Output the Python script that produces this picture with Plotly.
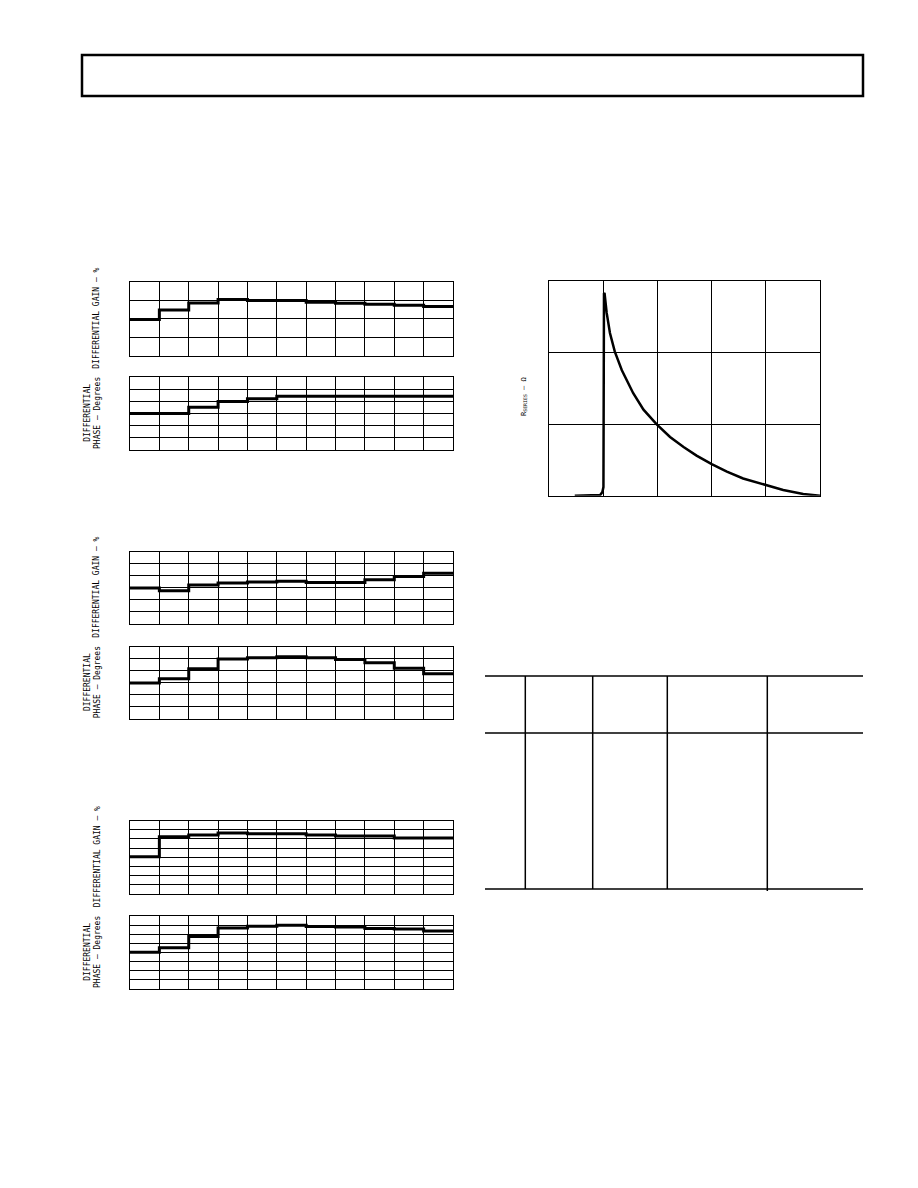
import plotly.graph_objects as go

# page is W x H; the HTML body adds an 8px margin, so the figure is placed
# at (8, 8) and is 8px smaller in each direction.
PAGE_W, PAGE_H = 918, 1188
OFF = 8
W, H = PAGE_W - OFF, PAGE_H - OFF

# ---------------- data ----------------
step_cols = list(range(12))  # 11 columns -> 12 edges

gain1 = [1.96, 2.47, 2.86, 3.05, 2.99, 2.99, 2.90, 2.85, 2.79, 2.74, 2.67]
phase1 = [3.00, 3.00, 3.52, 3.98, 4.22, 4.41, 4.41, 4.41, 4.41, 4.41, 4.41]
gain2 = [2.97, 2.75, 3.22, 3.39, 3.47, 3.53, 3.44, 3.44, 3.66, 3.94, 4.21]
phase2 = [2.97, 3.33, 4.15, 4.96, 5.07, 5.15, 5.07, 4.93, 4.66, 4.19, 3.75]
gain3 = [4.06, 6.23, 6.41, 6.63, 6.56, 6.56, 6.41, 6.30, 6.30, 6.09, 6.09]
phase3 = [4.04, 4.51, 5.75, 6.69, 6.87, 6.98, 6.84, 6.80, 6.62, 6.58, 6.36]

rseries_x = [0.47, 0.94, 0.98, 1.0, 1.01, 1.02, 1.06, 1.12, 1.21, 1.34, 1.55,
             1.74, 1.98, 2.23, 2.48, 2.72, 3.0, 3.28, 3.58, 4.0, 4.32, 4.69, 5.0]
rseries_y = [0.0, 0.01, 0.05, 0.12, 2.82, 2.83, 2.55, 2.27, 2.01, 1.75, 1.43,
             1.2, 1.0, 0.82, 0.68, 0.56, 0.44, 0.335, 0.24, 0.15, 0.08, 0.025, 0.0]

gain_label = "DIFFERENTIAL GAIN – %"
phase_label = "DIFFERENTIAL<br>PHASE – Degrees"
r_label = "R<sub>SERIES</sub> – Ω"

# ---------------- layout helpers (page pixel -> paper) ----------------
def px(x):
    return (x - OFF) / W

def py(y):
    return 1 - (y - OFF) / H

def xdom(a, b):
    return [px(a), px(b)]

def ydom(top, bottom):
    return [py(bottom), py(top)]

fig = go.Figure()
layout = dict(width=W, height=H, margin=dict(l=0, r=0, t=0, b=0),
              paper_bgcolor="white", plot_bgcolor="white", showlegend=False)

axis_common = dict(showgrid=True, gridcolor="black", gridwidth=1, dtick=1, tick0=0,
                   showline=True, linecolor="black", linewidth=1, mirror=True,
                   zeroline=False, showticklabels=False, ticks="", fixedrange=True)

# step panels: (values, nrows, top px, bottom px)
panels = [
    (gain1, 4, 282, 355.5),
    (phase1, 6, 377, 450),
    (gain2, 6, 551.5, 624),
    (phase2, 6, 646.5, 719),
    (gain3, 8, 820.5, 894),
    (phase3, 8, 916, 989),
]

ax_i = 0
for vals, nrows, top, bot in panels:
    ax_i += 1
    xa = "xaxis" if ax_i == 1 else f"xaxis{ax_i}"
    ya = "yaxis" if ax_i == 1 else f"yaxis{ax_i}"
    xr = "x" if ax_i == 1 else f"x{ax_i}"
    yr = "y" if ax_i == 1 else f"y{ax_i}"
    layout[xa] = dict(axis_common, domain=xdom(130, 453), range=[0, 11], anchor=yr)
    layout[ya] = dict(axis_common, domain=ydom(top, bot), range=[0, nrows], anchor=xr)
    fig.add_trace(go.Scatter(x=step_cols, y=vals + [vals[-1]], mode="lines",
                             line=dict(color="black", width=3, shape="hv"),
                             xaxis=xr, yaxis=yr, hoverinfo="skip"))

# R series panel
ax_i += 1
xr, yr = f"x{ax_i}", f"y{ax_i}"
layout[f"xaxis{ax_i}"] = dict(axis_common, domain=xdom(549.3, 820), range=[0, 5], anchor=yr)
layout[f"yaxis{ax_i}"] = dict(axis_common, domain=ydom(280.7, 495.7), range=[0, 3], anchor=xr)
fig.add_trace(go.Scatter(x=rseries_x, y=rseries_y, mode="lines",
                         line=dict(color="black", width=2.5),
                         xaxis=xr, yaxis=yr, hoverinfo="skip"))

# ---------------- labels ----------------
font = dict(family="DejaVu Sans Mono", size=8, color="black")
annotations = []
for idx, (vals, nrows, top, bot) in enumerate(panels):
    cy = py((top + bot) / 2)
    if idx % 2 == 0:
        annotations.append(dict(text=gain_label, x=px(97), y=cy, xref="paper", yref="paper",
                                showarrow=False, textangle=-90, font=font,
                                xanchor="center", yanchor="middle"))
    else:
        annotations.append(dict(text=phase_label, x=px(92.5), y=cy, xref="paper", yref="paper",
                                showarrow=False, textangle=-90, font=font,
                                xanchor="center", yanchor="middle"))
annotations.append(dict(text=r_label, x=px(524), y=py(397), xref="paper", yref="paper",
                        showarrow=False, textangle=-90,
                        font=dict(family="DejaVu Sans Mono", size=7, color="black"),
                        xanchor="center", yanchor="middle"))
layout["annotations"] = annotations

# ---------------- page frame & table rules ----------------
shapes = [dict(type="rect", xref="paper", yref="paper", x0=px(82), x1=px(863),
               y0=py(55), y1=py(96), line=dict(color="black", width=2.5))]

table_rows = [676, 733, 889]
table_cols = [525.3, 592.7, 667.3, 767.3]
for yy in table_rows:
    shapes.append(dict(type="line", xref="paper", yref="paper", x0=px(485), x1=px(863),
                       y0=py(yy), y1=py(yy), line=dict(color="black", width=1.5)))
for i, xx in enumerate(table_cols):
    bottom = 891 if i == len(table_cols) - 1 else 889
    shapes.append(dict(type="line", xref="paper", yref="paper", x0=px(xx), x1=px(xx),
                       y0=py(676), y1=py(bottom), line=dict(color="black", width=1.5)))
layout["shapes"] = shapes

fig.update_layout(**layout)
fig.write_html("out.html")
